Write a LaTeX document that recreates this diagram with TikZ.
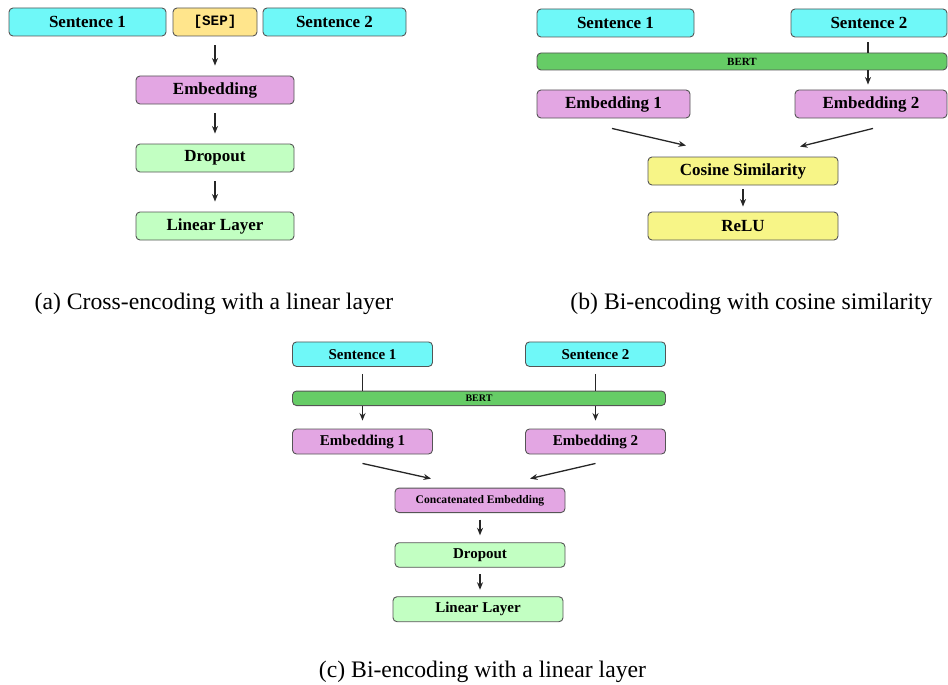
\documentclass[tikz,border=0pt]{standalone}
\usepackage{fontspec}
\setmainfont{Liberation Serif}
\newfontfamily\monofnt{Liberation Mono}
\usetikzlibrary{arrows.meta}
\definecolor{cyanbox}{HTML}{6FF8F8}
\definecolor{sepbox}{HTML}{FFE58C}
\definecolor{embbox}{HTML}{E3A6E3}
\definecolor{dropbox}{HTML}{C2FFC2}
\definecolor{bertbox}{HTML}{66CC66}
\definecolor{cosbox}{HTML}{F7F587}
\definecolor{edge}{HTML}{555555}
\tikzset{
  blk/.style={draw=edge, line width=0.9pt, rounded corners=4pt, inner sep=0pt,
    align=center, font=\fontsize{17}{17}\selectfont\bfseries},
  blks/.style={blk, font=\fontsize{15}{15}\selectfont\bfseries},
  arr/.style={line width=1.3pt, draw=black!85, -{Stealth[length=7.5pt,width=6pt]}},
  plainline/.style={line width=1.3pt, draw=black!85},
  captext/.style={font=\fontsize{23.7}{24}\selectfont, anchor=base, inner sep=0pt}
}
\begin{document}
\begin{tikzpicture}[x=1pt,y=-1pt]
\useasboundingbox (0,0) rectangle (948,685);
% ---------- (a) ----------
\node[blk, fill=cyanbox, minimum width=157pt, minimum height=28pt] (s1a) at (87.5,22) {Sentence 1};
\node[blk, fill=sepbox, minimum width=84pt, minimum height=28pt, font=\fontsize{14.3}{14.3}\selectfont\monofnt\bfseries] (sep) at (215,22) {[SEP]};
\node[blk, fill=cyanbox, minimum width=143pt, minimum height=28pt] (s2a) at (334.5,22) {Sentence 2};
\node[blk, fill=embbox, minimum width=158pt, minimum height=28pt] (emba) at (215,90) {Embedding};
\node[blk, fill=dropbox, minimum width=158pt, minimum height=28pt] (dropa) at (215,158) {Dropout};
\node[blk, fill=dropbox, minimum width=158pt, minimum height=28pt] (lina) at (215,226) {Linear Layer};
\draw[arr] ([yshift=-9pt]sep.south) -- ([yshift=10pt]emba.north);
\draw[arr] ([yshift=-9pt]emba.south) -- ([yshift=10pt]dropa.north);
\draw[arr] ([yshift=-9pt]dropa.south) -- ([yshift=10pt]lina.north);
\node[captext] (capa) at (214,309) {(a) Cross-encoding with a linear layer};
% ---------- (b) ----------
\node[blk, fill=cyanbox, minimum width=157pt, minimum height=28pt] (s1b) at (615.5,23) {Sentence 1};
\node[blk, fill=cyanbox, minimum width=156pt, minimum height=28pt] (s2b) at (869,23) {Sentence 2};
\node[blk, fill=bertbox, minimum width=410pt, minimum height=17pt, font=\fontsize{11}{11}\selectfont\bfseries] (bertb) at (742,61.5) {BERT};
\node[blk, fill=embbox, minimum width=153pt, minimum height=28pt] (e1b) at (613.5,104) {Embedding 1};
\node[blk, fill=embbox, minimum width=152pt, minimum height=28pt] (e2b) at (871,104) {Embedding 2};
\node[blk, fill=cosbox, minimum width=190pt, minimum height=28pt] (cos) at (743,171) {Cosine Similarity};
\node[blk, fill=cosbox, minimum width=190pt, minimum height=28pt] (relu) at (743,226) {ReLU};
\draw[plainline] ([xshift=-1pt,yshift=-5pt]s2b.south) -- ([xshift=-1pt]s2b.south |- bertb.north);
\draw[arr] ([xshift=-1pt]s2b.south |- bertb.south) -- ([xshift=-1pt,yshift=5pt]s2b.south |- e2b.north);
\draw[arr] ([xshift=-1.5pt,yshift=-10pt]e1b.south) -- ([xshift=-57pt,yshift=11pt]cos.north);
\draw[arr] ([xshift=2pt,yshift=-10pt]e2b.south) -- ([xshift=57pt,yshift=10pt]cos.north);
\draw[arr] ([yshift=-4pt]cos.south) -- ([yshift=5pt]relu.north);
\node[captext] (capb) at (751.5,309) {(b) Bi-encoding with cosine similarity};
% ---------- (c) ----------
\node[blks, fill=cyanbox, minimum width=140pt, minimum height=24.5pt] (s1c) at (362.5,354.2) {Sentence 1};
\node[blks, fill=cyanbox, minimum width=140pt, minimum height=24.5pt] (s2c) at (595.5,354.2) {Sentence 2};
\node[blks, fill=bertbox, minimum width=373pt, minimum height=14.5pt, font=\fontsize{10}{10}\selectfont\bfseries] (bertc) at (479,398.3) {BERT};
\node[blks, fill=embbox, minimum width=140pt, minimum height=25pt] (e1c) at (362.5,441.5) {Embedding 1};
\node[blks, fill=embbox, minimum width=140pt, minimum height=25pt] (e2c) at (595.5,441.5) {Embedding 2};
\node[blks, fill=embbox, minimum width=170pt, minimum height=24.5pt, font=\fontsize{11.6}{11.6}\selectfont\bfseries] (cat) at (480,500.3) {Concatenated Embedding};
\node[blks, fill=dropbox, minimum width=170pt, minimum height=24.5pt] (dropc) at (480,555) {Dropout};
\node[blks, fill=dropbox, minimum width=170pt, minimum height=25pt] (linc) at (478,609.2) {Linear Layer};
\draw[plainline] ([yshift=-7pt]s1c.south) -- (s1c.south |- bertc.north);
\draw[arr] (s1c.south |- bertc.south) -- ([yshift=8pt]e1c.north);
\draw[plainline] ([yshift=-7pt]s2c.south) -- (s2c.south |- bertc.north);
\draw[arr] (s2c.south |- bertc.south) -- ([yshift=8pt]e2c.north);
\draw[arr] ([xshift=0pt,yshift=-9pt]e1c.south) -- ([xshift=-49pt,yshift=9pt]cat.north);
\draw[arr] ([xshift=0pt,yshift=-9pt]e2c.south) -- ([xshift=50pt,yshift=9pt]cat.north);
\draw[arr] ([yshift=-6.5pt]cat.south) -- ([yshift=7pt]dropc.north);
\draw[arr] ([yshift=-6.5pt]dropc.south) -- ([yshift=6.5pt]dropc.south |- linc.north);
\node[captext] (capc) at (482.5,677) {(c) Bi-encoding with a linear layer};
\end{tikzpicture}
\end{document}
